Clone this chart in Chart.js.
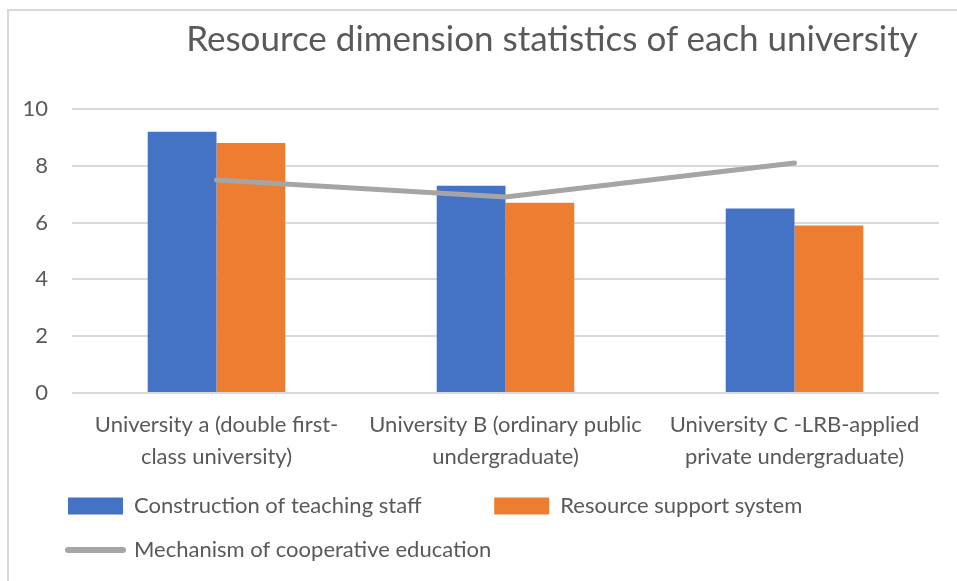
<!DOCTYPE html>
<html>
<head>
<meta charset="utf-8">
<script src="https://cdn.jsdelivr.net/npm/chart.js@4.4.1/dist/chart.umd.min.js"></script>
<style>
  html, body { margin: 0; padding: 0; background: #fff; }
  #wrap {
    position: absolute; left: 7px; top: 9px;
    width: 948px; height: 570px;
    border-left: 2px solid #d9d9d9; border-top: 2px solid #d9d9d9;
  }
  #title {
    position: absolute; left: 543px; top: 5px;
    transform: translateX(-50%);
    white-space: nowrap;
    font-family: Lato, "Open Sans", sans-serif;
    font-size: 35px; color: #595959;
  }
</style>
</head>
<body>
<div id="wrap">
  <div id="title">Resource dimension statistics of each university</div>
  <canvas id="chart" width="948" height="570"></canvas>
</div>
<script>
const categories = [
  ["University a (double first-", "class university)"],
  ["University B (ordinary public", "undergraduate)"],
  ["University C -LRB-applied", "private undergraduate)"],
]
const teachingStaff = [9.2, 7.3, 6.5]
const resourceSupport = [8.8, 6.7, 5.9]
const cooperativeMechanism = [7.5, 6.9, 8.1]
const yTicks = [0, 2, 4, 6, 8, 10]

const textColor = "#595959"
const gridColor = "#d9d9d9"

Chart.defaults.font.family = "Lato, 'Open Sans', sans-serif"
Chart.defaults.color = textColor

// move the legend right so it lines up under the plot like the excel one
const legendOffset = {
  id: "legendOffset",
  afterLayout(chart) {
    chart.legend.left += 25
    chart.legend.right += 25
  },
}

new Chart(document.getElementById("chart"), {
  type: "bar",
  plugins: [legendOffset],
  data: {
    labels: categories,
    datasets: [
      {
        type: "line",
        label: "Mechanism of cooperative education",
        data: cooperativeMechanism,
        borderColor: "#a5a5a5",
        backgroundColor: "#a5a5a5",
        borderWidth: 5,
        borderCapStyle: "round",
        pointRadius: 0,
        order: 0,
      },
      {
        label: "Construction of teaching staff",
        data: teachingStaff,
        backgroundColor: "#4472c4",
        order: 1,
      },
      {
        label: "Resource support system",
        data: resourceSupport,
        backgroundColor: "#ed7d31",
        order: 1,
      },
    ],
  },
  options: {
    responsive: false,
    animation: false,
    layout: {
      autoPadding: false,
      padding: { left: 12, right: 18, top: 98, bottom: 10 },
    },
    datasets: {
      bar: { categoryPercentage: 0.476, barPercentage: 1 },
    },
    plugins: {
      title: { display: false },
      tooltip: { enabled: false },
      legend: {
        position: "bottom",
        align: "start",
        labels: {
          padding: 22,
          boxWidth: 55,
          boxHeight: 17,
          usePointStyle: true,
          pointStyleWidth: 55,
          font: { size: 22 },
          color: textColor,
          sort: (a, b) => (a.datasetIndex === 0) - (b.datasetIndex === 0),
          generateLabels: (chart) => {
            const items = Chart.defaults.plugins.legend.labels.generateLabels(chart)
            items.forEach((item) => {
              if (item.datasetIndex === 0) {
                item.pointStyle = "line"
                item.lineWidth = 6
                item.lineCap = "round"
              } else {
                item.pointStyle = "rect"
                item.lineWidth = 0
              }
              // excel puts the entries in equal width columns
              if (item.datasetIndex === 1) item.text += " ".repeat(9)
            })
            return items
          },
        },
      },
    },
    scales: {
      x: {
        grid: { display: false, drawTicks: false },
        border: { display: false },
        ticks: {
          padding: 16,
          maxRotation: 0,
          autoSkip: false,
          font: { size: 22, lineHeight: 1.455 },
        },
        afterFit: (axis) => { axis.height = 80 },
      },
      y: {
        min: 0,
        max: 10,
        afterBuildTicks: (axis) => { axis.ticks = yTicks.map((v) => ({ value: v })) },
        grid: { color: gridColor, lineWidth: 2, drawTicks: false },
        border: { display: false },
        ticks: { padding: 24, font: { size: 22 } },
        afterFit: (axis) => { axis.width = 51 },
      },
    },
  },
})
</script>
</body>
</html>
